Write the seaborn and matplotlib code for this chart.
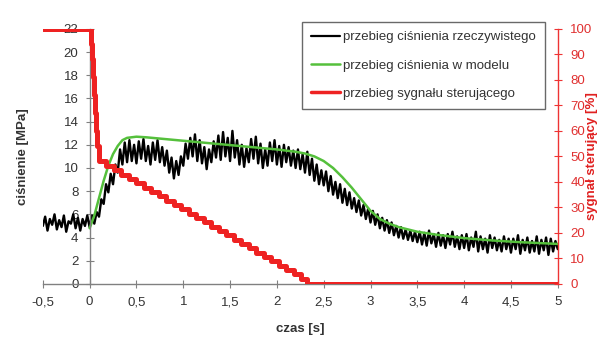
import numpy as np
import pandas as pd
import matplotlib
matplotlib.use("Agg")
import matplotlib.pyplot as plt
import seaborn as sns
from matplotlib.lines import Line2D

# ---- data ----
x_ticks = [-0.5, 0, 0.5, 1, 1.5, 2, 2.5, 3, 3.5, 4, 4.5, 5]
x_tick_labels = ["-0,5", "0", "0,5", "1", "1,5", "2", "2,5", "3", "3,5", "4", "4,5", "5"]
y_left_ticks = [0, 2, 4, 6, 8, 10, 12, 14, 16, 18, 20, 22]
y_right_ticks = [0, 10, 20, 30, 40, 50, 60, 70, 80, 90, 100]

# measured pressure, sampled every 0.025 s from -0.5 s
black_t0 = -0.5
black_dt = 0.025
black_vals = [
    5.0, 5.8, 4.6, 5.6, 5.1, 6.0, 4.7, 5.5, 4.9, 5.9, 4.5, 5.4, 5.2, 6.0, 4.8, 5.7, 4.6, 5.6, 5.0, 5.9,
    4.9, 5.9, 5.2, 6.2, 5.8, 7.3, 6.9, 8.6, 7.9, 9.5, 8.6, 10.3, 9.6, 11.6, 10.3, 12.2, 10.5, 12.4, 10.6, 12.0,
    10.4, 12.3, 10.8, 12.5, 10.6, 11.9, 10.3, 12.2, 10.7, 12.4, 10.5, 11.8, 10.2, 11.5, 9.6, 10.9, 9.1, 10.6, 9.4, 11.0,
    10.2, 12.1, 10.8, 12.6, 11.0, 12.9, 10.6, 12.4, 10.4, 11.8, 9.9, 11.6, 10.5, 12.3, 10.9, 12.8, 10.7, 13.1, 11.0, 12.6,
    10.6, 13.2, 10.9, 12.4, 10.3, 12.0, 10.1, 11.7, 10.5, 12.5, 10.8, 12.7, 10.4, 12.1, 10.0, 11.6, 10.2, 12.2, 10.6, 12.4,
    10.3, 11.9, 10.1, 12.0, 10.5, 11.8, 10.2, 11.5, 10.0, 11.6, 9.9, 11.2, 9.6, 11.4, 9.4, 10.8, 8.9, 10.3, 8.6, 9.8,
    8.5, 9.7, 8.0, 9.3, 7.7, 8.8, 7.4, 8.6, 7.0, 8.2, 6.8, 7.9, 6.5, 7.4, 6.2, 7.2, 5.9, 6.8, 5.6, 6.5,
    5.3, 6.3, 5.1, 6.0, 4.8, 5.7, 4.6, 5.5, 4.4, 5.3, 4.2, 5.0, 4.0, 4.9, 3.9, 4.7, 3.8, 4.6, 3.7, 4.5,
    3.6, 4.5, 3.4, 4.4, 3.3, 4.6, 3.5, 4.3, 3.2, 4.4, 3.3, 4.2, 3.1, 4.3, 3.4, 4.5, 3.2, 4.1, 3.0, 4.2,
    3.1, 4.3, 2.9, 4.0, 3.2, 4.5, 2.8, 4.1, 3.0, 3.9, 2.7, 4.2, 3.1, 4.0, 2.9, 3.8, 2.8, 4.1, 3.0, 3.9,
    2.7, 3.9, 3.0, 4.2, 2.6, 3.8, 2.9, 4.0, 2.7, 3.7, 2.8, 4.1, 2.6, 3.8, 2.9, 4.0, 2.5, 3.9, 2.8, 3.7, 3.0,
]
black_t = [round(black_t0 + i * black_dt, 3) for i in range(len(black_vals))]

# model pressure
green_t = [0.0, 0.05, 0.1, 0.15, 0.2, 0.25, 0.3, 0.35, 0.4, 0.5, 0.6, 0.8, 1.0, 1.2, 1.4, 1.6, 1.8,
           2.0, 2.2, 2.3, 2.4, 2.5, 2.6, 2.7, 2.8, 2.9, 2.95, 3.0, 3.1, 3.2, 3.3, 3.4, 3.5, 3.7,
           4.0, 4.3, 4.6, 5.0]
green_vals = [4.8, 5.9, 7.4, 8.9, 10.2, 11.2, 11.9, 12.4, 12.6, 12.7, 12.65, 12.5, 12.35, 12.2, 12.05,
              11.9, 11.75, 11.6, 11.4, 11.25, 11.0, 10.6, 10.0, 9.2, 8.3, 7.3, 6.8, 6.3, 5.6, 5.2, 4.9,
              4.7, 4.5, 4.25, 3.95, 3.75, 3.6, 3.45]

# control signal [%] (step function, value holds from each time until the next)
red_t = [-0.5, 0.0, 0.012, 0.024, 0.036, 0.048, 0.06, 0.072, 0.084, 0.096, 0.18, 0.26, 0.34,
         0.42, 0.50, 0.58, 0.66, 0.74, 0.82, 0.90, 0.98, 1.06, 1.14, 1.22, 1.30, 1.38, 1.46,
         1.54, 1.62, 1.70, 1.78, 1.86, 1.94, 2.02, 2.10, 2.18, 2.26, 2.32, 5.0]
red_vals = [100, 100, 94, 88, 81, 74, 67, 60, 54, 48, 46.3, 44.6, 42.9,
            41.2, 39.5, 37.8, 36.1, 34.4, 32.7, 31.0, 29.3, 27.6, 25.9, 24.2, 22.5, 20.8, 19.1,
            17.4, 15.7, 14.0, 12.3, 10.6, 8.9, 7.2, 5.5, 3.8, 2.1, 0.0, 0.0]

labels = ["przebieg ciśnienia rzeczywistego", "przebieg ciśnienia w modelu",
          "przebieg sygnału sterującego"]

# ---- plot ----
sns.set_theme(style="white")
plt.rcParams["font.family"] = ["Liberation Sans", "DejaVu Sans"]

fig = plt.figure(figsize=(6.03, 3.40), dpi=100)
ax = fig.add_axes([0.071, 0.165, 0.854, 0.75])

df_b = pd.DataFrame({"t": black_t, "p": black_vals})
df_g = pd.DataFrame({"t": green_t, "p": green_vals})
df_r = pd.DataFrame({"t": red_t, "s": red_vals})

sns.lineplot(data=df_b, x="t", y="p", ax=ax, color="black", lw=1.7, estimator=None, sort=False)
sns.lineplot(data=df_g, x="t", y="p", ax=ax, color="#55c03c", lw=1.8, estimator=None, sort=False)

ax.set_xlim(-0.5, 5)
ax.set_ylim(0, 22)
ax.set_xticks(x_ticks)
ax.set_xticklabels(x_tick_labels)
ax.set_yticks(y_left_ticks)
ax.spines["left"].set_position(("data", 0))
ax.spines["top"].set_visible(False)
ax.spines["right"].set_visible(False)
for s in ["left", "bottom"]:
    ax.spines[s].set_color("#808080")
    ax.spines[s].set_linewidth(1.0)
ax.tick_params(axis="both", which="both", direction="inout", length=6, width=0.8,
               color="#808080", labelsize=9.5, labelcolor="#333333", left=True, bottom=True)
ax.tick_params(axis="x", pad=6)
ax.tick_params(axis="y", pad=5)
ax.set_xlabel("czas [s]", fontsize=9.5, fontweight="bold", color="#333333")
ax.xaxis.set_label_coords(0.5, -0.155)
ax.set_ylabel("ciśnienie [MPa]", fontsize=9.5, fontweight="bold", color="#333333")
ax.yaxis.set_label_coords(-0.027, 0.5)
ax.grid(False)

ax2 = ax.twinx()
sns.lineplot(data=df_r, x="t", y="s", ax=ax2, color="#ee2222", lw=3.6, estimator=None,
             sort=False, drawstyle="steps-post")
ax2.set_ylim(0, 100)
ax2.set_xlim(-0.5, 5)
ax2.set_yticks(y_right_ticks)
for s in ["left", "top", "bottom"]:
    ax2.spines[s].set_visible(False)
ax2.spines["right"].set_color("#ee3333")
ax2.spines["right"].set_linewidth(1.0)
ax2.tick_params(axis="y", direction="inout", length=6, width=0.8, color="#ee3333",
                labelsize=9.5, labelcolor="#e03030", right=True, pad=6)
ax2.set_ylabel("sygnał sterujący [%]", fontsize=9.5, fontweight="bold", color="#e02020")
ax2.yaxis.set_label_coords(1.055, 0.5)
ax2.grid(False)

handles = [Line2D([], [], color="black", lw=1.6),
           Line2D([], [], color="#55c03c", lw=1.8),
           Line2D([], [], color="#ee2222", lw=2.5)]
leg = ax2.legend(handles, labels, loc="upper right", bbox_to_anchor=(0.975, 1.027),
                 fontsize=9.5, frameon=True, fancybox=False, edgecolor="#444444",
                 handlelength=2.2, handletextpad=0.2, labelspacing=1.2, borderpad=0.7,
                 borderaxespad=0.0)
leg.get_frame().set_linewidth(1.0)
for t in leg.get_texts():
    t.set_color("#333333")

fig.savefig("out.png", dpi=100)
